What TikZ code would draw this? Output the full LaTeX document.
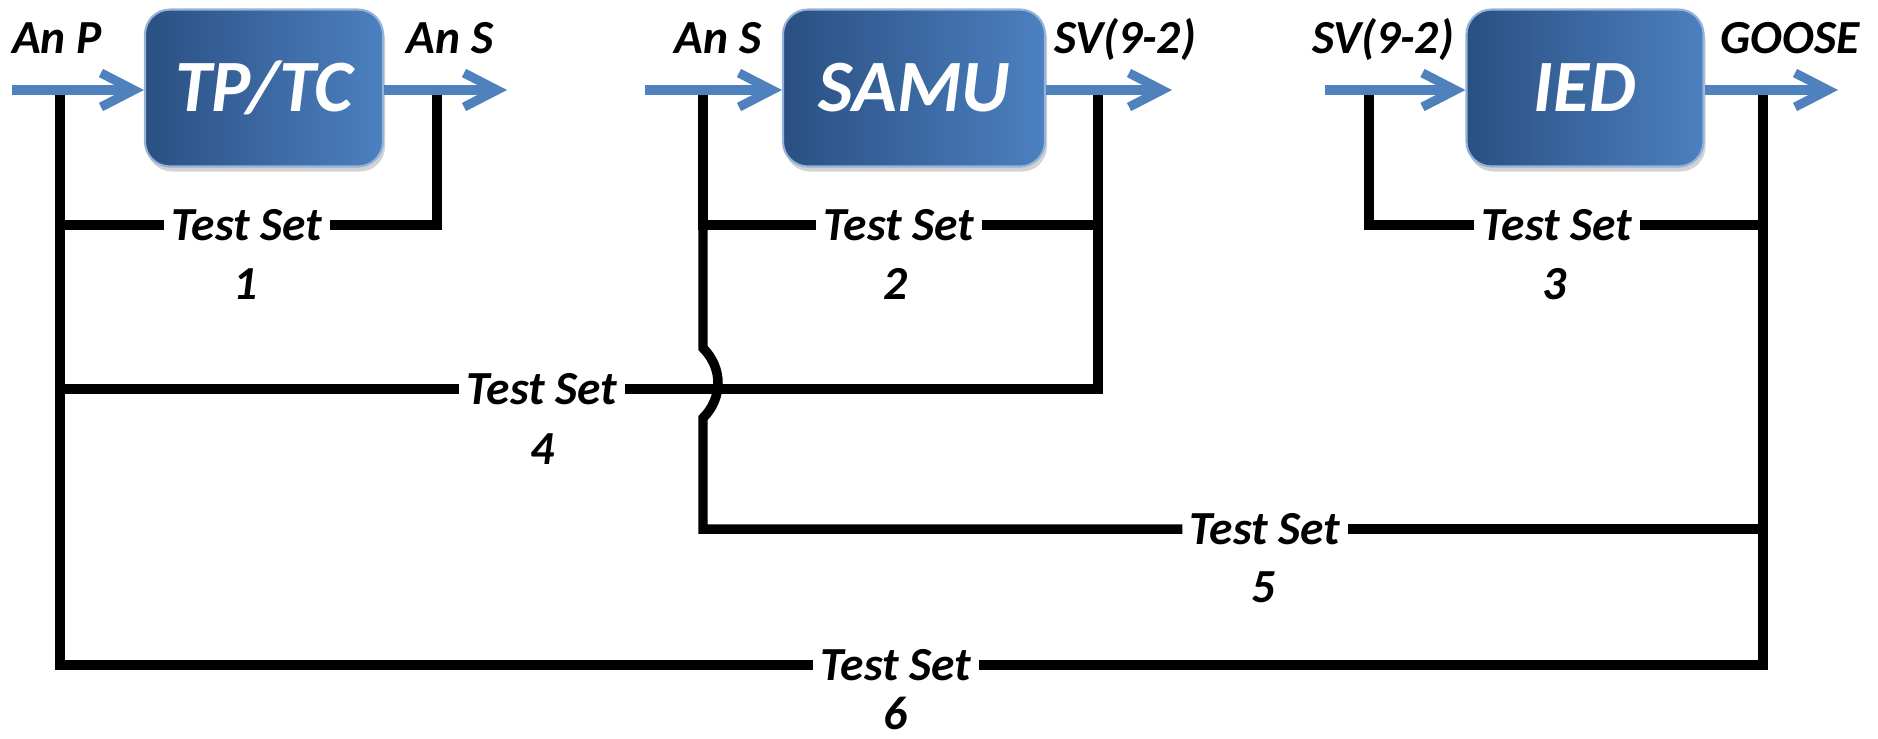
\documentclass[tikz,border=0pt]{standalone}
\usepackage{fontspec}
\setmainfont{Carlito}
\usetikzlibrary{arrows.meta}
\usetikzlibrary{shadows}
\definecolor{flowblue}{RGB}{79,129,189}
\definecolor{boxdark}{RGB}{42,80,130}
\definecolor{boxlight}{RGB}{76,128,192}
\tikzset{
	boxstyle/.style={rectangle,rounded corners=0.25cm,left color=boxdark,right color=boxlight,draw=boxlight!60!white,line width=0.6pt,text=white,minimum height=1.57cm,font=\fontsize{21}{25}\selectfont,drop shadow={opacity=0.35,shadow xshift=0.02cm,shadow yshift=-0.05cm}},
	flowstyle/.style={draw=flowblue,line width=2.6pt,-{Straight Barb[length=3.3mm,width=3.4mm]}},
	tapstyle/.style={draw=black,line width=2.7pt},
	setstyle/.style={rectangle,inner xsep=2pt,inner ysep=0pt,font=\fontsize{13.5}{16}\selectfont},
	sigstyle/.style={anchor=base,inner sep=0pt,font=\fontsize{13.5}{16}\selectfont}
}
\begin{document}
\begin{tikzpicture}
	\bfseries\itshape
	\useasboundingbox (0,0) rectangle (18.78,-7.38);
	\node[boxstyle,minimum width=2.38cm] (tp) at (2.64,-0.88) {TP/TC};
	\node[boxstyle,minimum width=2.62cm] (samu) at (9.14,-0.88) {SAMU};
	\node[boxstyle,minimum width=2.37cm] (ied) at (15.85,-0.88) {IED};
	\coordinate (i1) at (0.12,-0.90);
	\coordinate (o1) at (5.07,-0.90);
	\coordinate (i2) at (6.45,-0.90);
	\coordinate (o2) at (11.72,-0.90);
	\coordinate (i3) at (13.25,-0.90);
	\coordinate (o3) at (18.38,-0.90);
	\coordinate (p1) at (0.60,-0.90);
	\coordinate (s1) at (4.37,-0.90);
	\coordinate (s2) at (7.03,-0.90);
	\coordinate (v2) at (10.98,-0.90);
	\coordinate (v3) at (13.69,-0.90);
	\coordinate (g3) at (17.63,-0.90);
	\coordinate (jt) at (7.03,-3.48);
	\coordinate (jb) at (7.03,-4.18);
	\node[setstyle] (t1) at (2.47,-2.25) {Test Set};
	\node[setstyle] (t2) at (8.99,-2.25) {Test Set};
	\node[setstyle] (t3) at (15.57,-2.25) {Test Set};
	\node[setstyle] (t4) at (5.42,-3.89) {Test Set};
	\node[setstyle] (t5) at (12.65,-5.29) {Test Set};
	\node[setstyle] (t6) at (8.96,-6.65) {Test Set};
	\node[setstyle] (n1) at (2.46,-2.84) {1};
	\node[setstyle] (n2) at (8.96,-2.84) {2};
	\node[setstyle] (n3) at (15.55,-2.84) {3};
	\node[setstyle] (n4) at (5.43,-4.49) {4};
	\node[setstyle] (n5) at (12.64,-5.87) {5};
	\node[setstyle] (n6) at (8.96,-7.13) {6};
	\draw[tapstyle] (p1) |- (t1.west);
	\draw[tapstyle] (t1.east) -| (s1);
	\draw[tapstyle] (s2) |- (t2.west);
	\draw[tapstyle] (t2.east) -| (v2);
	\draw[tapstyle] (v3) |- (t3.west);
	\draw[tapstyle] (t3.east) -| (g3);
	\draw[tapstyle] (p1) |- (t4.west);
	\draw[tapstyle] (t4.east) -| (v2);
	\draw[tapstyle] (s2) -- (jt) .. controls +(0.2,-0.2) and +(0.2,0.2) .. (jb) |- (t5.west);
	\draw[tapstyle] (t5.east) -| (g3);
	\draw[tapstyle] (p1) |- (t6.west);
	\draw[tapstyle] (t6.east) -| (g3);
	\draw[flowstyle] (i1) -- (i1 -| tp.west);
	\draw[flowstyle] (tp.east |- o1) -- (o1);
	\draw[flowstyle] (i2) -- (i2 -| samu.west);
	\draw[flowstyle] (samu.east |- o2) -- (o2);
	\draw[flowstyle] (i3) -- (i3 -| ied.west);
	\draw[flowstyle] (ied.east |- o3) -- (o3);
	\node[sigstyle] (la) at (0.57,-0.53) {An P};
	\node[sigstyle] (lb) at (4.50,-0.53) {An S};
	\node[sigstyle] (lc) at (7.18,-0.53) {An S};
	\node[sigstyle] (ld) at (11.25,-0.53) {SV(9-2)};
	\node[sigstyle] (le) at (13.83,-0.53) {SV(9-2)};
	\node[sigstyle] (lf) at (17.90,-0.53) {GOOSE};
\end{tikzpicture}
\end{document}
